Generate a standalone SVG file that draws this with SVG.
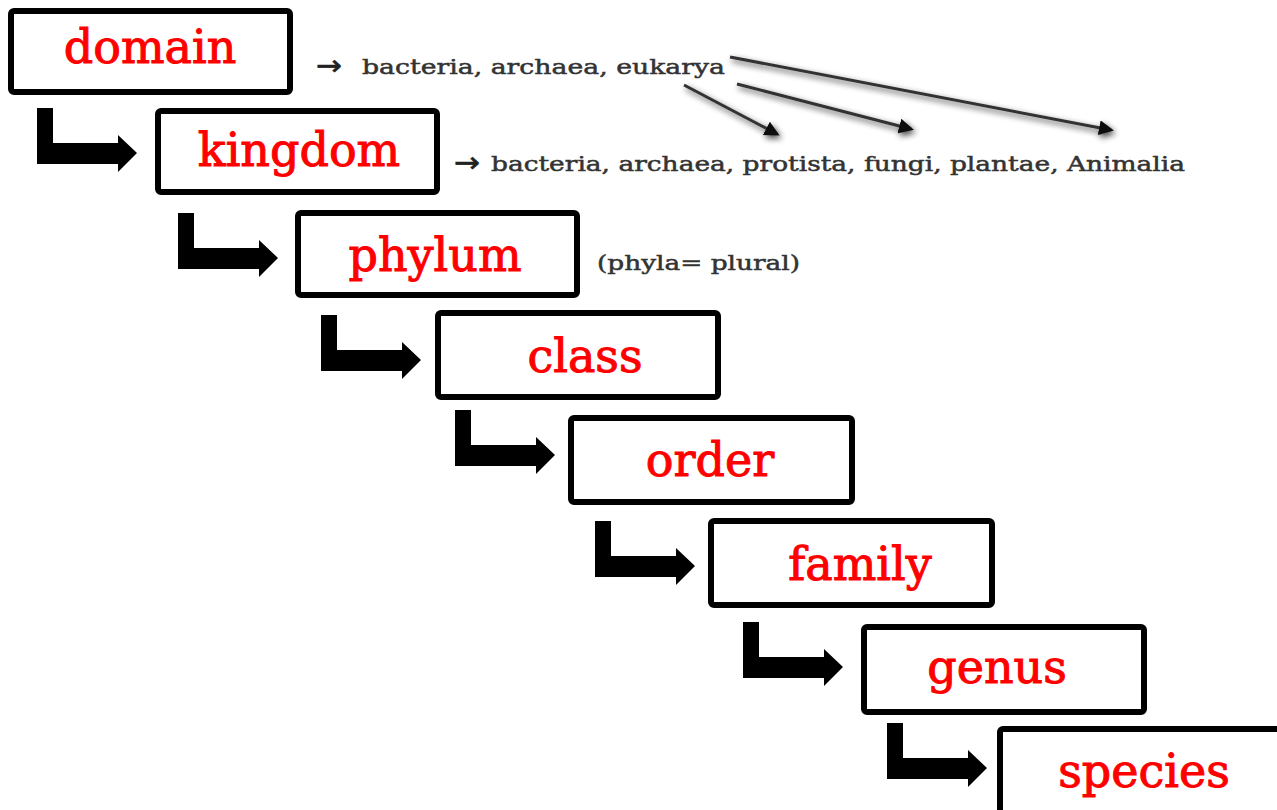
<svg xmlns="http://www.w3.org/2000/svg" width="1277" height="810" viewBox="0 0 1277 810">
<defs>
<style>
.box{fill:#fff;stroke:#000;stroke-width:6}
.lbl{font-family:"DejaVu Serif","Liberation Serif",serif;font-size:46px;fill:#f00;stroke:#f00;stroke-width:1;text-anchor:middle}
.note{font-family:"DejaVu Serif","Liberation Serif",serif;font-size:21px;fill:#333;stroke:#333;stroke-width:0.5}
.arr{font-family:"DejaVu Sans","Liberation Sans",sans-serif;font-size:28px;fill:#222;stroke:#222;stroke-width:0.6}
.bent{fill:#000}
.thin{stroke:#333;stroke-width:3;fill:none;marker-end:url(#tri)}
</style>
<marker id="tri" viewBox="0 0 10 10" refX="8" refY="5" markerWidth="5" markerHeight="5" orient="auto" markerUnits="strokeWidth">
<path d="M0,0 L10,5 L0,10 z" fill="#111"/>
</marker>
<filter id="shadow" x="-10%" y="-50%" width="120%" height="200%">
<feGaussianBlur in="SourceAlpha" stdDeviation="3"/>
<feOffset dx="2" dy="3" result="b"/>
<feComponentTransfer><feFuncA type="linear" slope="0.75"/></feComponentTransfer>
<feMerge><feMergeNode/><feMergeNode in="SourceGraphic"/></feMerge>
</filter>
<path id="bentArrow" d="M0 0 h16 v35 h65 v-8 l19 18 l-19 19 v-8 h-81 z"/>
</defs>
<rect width="1277" height="810" fill="#fff"/>

<g id="node-domain"><rect class="box" x="11" y="11" width="279" height="81" rx="3"/><text class="lbl" x="150" y="63">domain</text></g>
<g id="node-kingdom"><rect class="box" x="158" y="111" width="279" height="81" rx="3"/><text class="lbl" x="299" y="166">kingdom</text></g>
<g id="node-phylum"><rect class="box" x="298" y="213" width="279" height="82" rx="3"/><text class="lbl" x="435" y="271">phylum</text></g>
<g id="node-class"><rect class="box" x="438" y="313" width="280" height="84" rx="3"/><text class="lbl" x="585" y="372">class</text></g>
<g id="node-order"><rect class="box" x="571" y="418" width="281" height="84" rx="3"/><text class="lbl" x="710" y="476">order</text></g>
<g id="node-family"><rect class="box" x="711" y="521" width="281" height="84" rx="3"/><text class="lbl" x="860" y="580">family</text></g>
<g id="node-genus"><rect class="box" x="864" y="627" width="280" height="85" rx="3"/><text class="lbl" x="997" y="683">genus</text></g>
<g id="node-species"><rect class="box" x="1000" y="729" width="290" height="95" rx="3"/><text class="lbl" x="1144" y="787">species</text></g>

<g id="connectors">
<use href="#bentArrow" class="bent" x="37" y="108"/>
<use href="#bentArrow" class="bent" x="178" y="213"/>
<use href="#bentArrow" class="bent" x="321" y="315"/>
<use href="#bentArrow" class="bent" x="455" y="410"/>
<use href="#bentArrow" class="bent" x="595" y="521"/>
<use href="#bentArrow" class="bent" x="743" y="622"/>
<use href="#bentArrow" class="bent" x="887" y="723"/>
<g filter="url(#shadow)">
<path class="thin" d="M684 85 L777 134"/>
<path class="thin" d="M737 84 L911 129"/>
<path class="thin" d="M730 57 L1111 130"/>
</g>
</g>

<g id="notes">
<text class="arr" x="316" y="75" textLength="26" lengthAdjust="spacingAndGlyphs">→</text>
<text class="note" x="362" y="74" textLength="363" lengthAdjust="spacingAndGlyphs">bacteria, archaea, eukarya</text>
<text class="arr" x="454" y="172" textLength="26" lengthAdjust="spacingAndGlyphs">→</text>
<text class="note" x="491" y="171" textLength="694" lengthAdjust="spacingAndGlyphs">bacteria, archaea, protista, fungi, plantae, Animalia</text>
<text class="note" x="597" y="270" textLength="203" lengthAdjust="spacingAndGlyphs">(phyla= plural)</text>
</g>
</svg>
